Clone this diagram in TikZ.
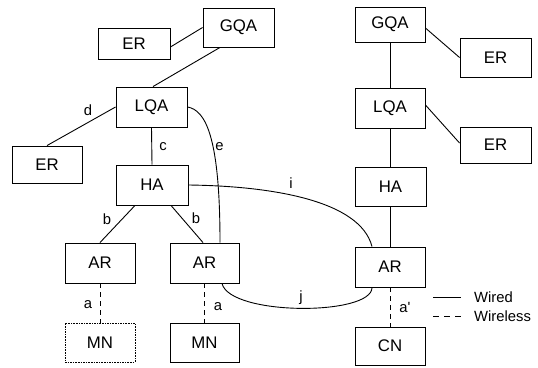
\documentclass[tikz,border=0pt]{standalone}
\usepackage{fontspec}
\setmainfont{Liberation Sans}
\newfontfamily\rawfont{Liberation Sans}[Ligatures=TeXOff]
\begin{document}
\begin{tikzpicture}[x=1pt,y=-1pt,
  box/.style={draw,line width=0.9pt,minimum width=70pt,minimum height=39pt,inner sep=0pt,font=\fontsize{16.8}{18}\selectfont},
  dotbox/.style={box,dash pattern=on 1.6pt off 1pt},
  wire/.style={line width=0.9pt},
  wless/.style={line width=0.9pt,dash pattern=on 5pt off 4pt},
  lbl/.style={inner sep=0pt,font=\fontsize{14.8}{16}\selectfont}]
\useasboundingbox (0,0) rectangle (538,367);
% left tree
\node[box,minimum width=72pt,minimum height=31pt] (ERa) at (134,43.5) {ER};
\node[box,minimum width=71pt,minimum height=39pt] (GQAL) at (238.5,27.5) {GQA};
\node[box,minimum width=71pt,minimum height=40pt] (LQAL) at (151.5,107) {LQA};
\node[box,minimum width=70pt,minimum height=37pt] (ERb) at (47,164.5) {ER};
\node[box,minimum width=72pt,minimum height=40pt] (HAL) at (152,185) {HA};
\node[box,minimum height=40pt] (AR1) at (100,263) {AR};
\node[box,minimum width=69pt,minimum height=40pt] (AR2) at (204.5,263) {AR};
\node[dotbox] (MN1) at (100,342.5) {MN};
\node[box,minimum width=69pt] (MN2) at (204.5,342.5) {MN};
% right tree
\node[box,minimum height=35pt] (GQAR) at (390,24.5) {GQA};
\node[box,minimum width=71pt] (ERc) at (495.5,57.5) {ER};
\node[box,minimum height=40pt] (LQAR) at (390,108) {LQA};
\node[box,minimum width=71pt,minimum height=36pt] (ERd) at (495.5,145) {ER};
\node[box,minimum width=71pt] (HAR) at (390.5,186.5) {HA};
\node[box,minimum height=40pt] (ARR) at (390,267) {AR};
\node[box,minimum height=38pt] (CN) at (390,346) {CN};
% connectors left
\draw[wire] ([yshift=-3.5pt]ERa.east) -- (GQAL.west);
\draw[wire] ([xshift=-18.5pt]GQAL.south) -- ([xshift=1.5pt]LQAL.north);
\draw[wire] (LQAL.west) -- (ERb.north);
\draw[wire] (LQAL.south) -- (HAL.north);
\draw[wire] (LQAL.east) .. controls (205,110) and (220,135) .. ([xshift=15.5pt]AR2.north);
\draw[wire] (HAL.east) .. controls (270,186) and (360,200) .. ([xshift=-18pt]ARR.north);
\draw[wire] ([xshift=17.5pt]AR2.south) .. controls (230,316) and (372,316) .. ([xshift=-18pt]ARR.south);
\draw[wire] ([xshift=-17pt]HAL.south) -- (AR1.north);
\draw[wire] ([xshift=19pt]HAL.south) -- ([xshift=-1.5pt]AR2.north);
\draw[wless] (AR1.south) -- (MN1.north);
\draw[wless] ([xshift=-0.5pt]AR2.south) -- ([xshift=-0.5pt]MN2.north);
% connectors right
\draw[wire] (GQAR.south) -- (LQAR.north);
\draw[wire] (LQAR.south) -- ([xshift=-0.5pt]HAR.north);
\draw[wire] ([xshift=-0.5pt]HAR.south) -- (ARR.north);
\draw[wless] (ARR.south) -- (CN.north);
\draw[wire] ([yshift=-3.5pt]GQAR.east) -- (ERc.west);
\draw[wire] ([yshift=3pt]LQAR.east) -- ([yshift=2pt]ERd.west);
% labels
\node[lbl] (ld) at (88,110) {d};
\node[lbl] (lc) at (163,147) {c};
\node[lbl] (le) at (219.5,147) {e};
\node[lbl] (li) at (291,183) {i};
\node[lbl] (lj) at (301,298) {j};
\node[lbl] (lb1) at (107,219) {b};
\node[lbl] (lb2) at (196,218) {b};
\node[lbl] (la1) at (88,305) {a};
\node[lbl] (la2) at (218,307) {a};
\node[lbl] (lap) at (405,307) {\rawfont a'};
% legend
\coordinate (w1) at (433,297);
\coordinate (w2) at (461,297);
\coordinate (v1) at (433,316);
\coordinate (v2) at (461,316);
\draw[wire] (w1) -- (w2);
\draw[wless,dash pattern=on 6pt off 5pt] (v1) -- (v2);
\node[lbl,anchor=west] (lw) at (474,297) {Wired};
\node[lbl,anchor=west] (lwl) at (474,316) {Wireless};
\end{tikzpicture}
\end{document}
